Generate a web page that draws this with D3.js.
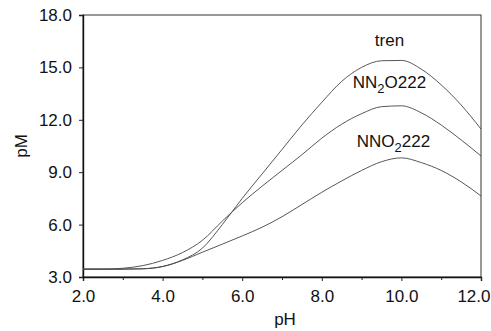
<!DOCTYPE html>
<html>
<head>
<meta charset="utf-8">
<script src="https://cdn.jsdelivr.net/npm/d3@7"></script>
<style>
  body { margin: 0; background: #fff; }
  text { font-family: Arial, "Liberation Sans", sans-serif; fill: #111; }
</style>
</head>
<body>
<div id="chart"></div>
<script>
// pH grid and pM values
const pH = [2.0, 2.5, 3.0, 3.5, 4.0, 4.5, 5.0, 5.5, 6.0, 6.5, 7.0, 7.5, 8.0, 8.5, 9.0, 9.5, 10.0, 10.5, 11.0, 11.5, 12.0];
const tren = [3.45, 3.45, 3.45, 3.47, 3.6, 3.98, 4.65, 6.0, 7.5, 8.9, 10.3, 11.7, 13.0, 14.2, 15.0, 15.38, 15.4, 14.9, 14.0, 12.85, 11.47];
const nn2o222 = [3.45, 3.45, 3.5, 3.65, 3.95, 4.4, 5.1, 6.2, 7.25, 8.2, 9.1, 10.0, 10.95, 11.75, 12.35, 12.75, 12.8, 12.4, 11.7, 10.85, 9.93];
const nno2222 = [3.45, 3.45, 3.45, 3.47, 3.6, 3.95, 4.42, 4.88, 5.35, 5.85, 6.45, 7.15, 7.85, 8.5, 9.1, 9.6, 9.82, 9.55, 9.1, 8.45, 7.64];

const xTicks = [2, 4, 6, 8, 10, 12];
const xMinor = [3, 5, 7, 9, 11];
const yTicks = [3, 6, 9, 12, 15, 18];

const labels = [
  { name: "tren", x: 9.7, y: 16.2 },
  { name: "NN|2|O222", x: 9.7, y: 13.8 },
  { name: "NNO|2|222", x: 9.8, y: 10.45 },
];

const W = 491, H = 331;
const margin = { top: 15, right: 10, bottom: 54, left: 83 };
const width = W - margin.left - margin.right;
const height = H - margin.top - margin.bottom;

const svg = d3.select("#chart").append("svg")
  .attr("width", W).attr("height", H);
const g = svg.append("g")
  .attr("transform", `translate(${margin.left},${margin.top})`);

const x = d3.scaleLinear().domain([2, 12]).range([0, width]);
const y = d3.scaleLinear().domain([3, 18]).range([height, 0]);

// frame
g.append("rect")
  .attr("width", width).attr("height", height)
  .attr("fill", "none").attr("stroke", "#333").attr("stroke-width", 1);

// x axis
const xAxis = g.append("g")
  .attr("transform", `translate(0,${height})`)
  .call(d3.axisBottom(x).tickValues(xTicks).tickFormat(d3.format(".1f")).tickSize(4).tickPadding(9));
g.append("g")
  .attr("transform", `translate(0,${height})`)
  .call(d3.axisBottom(x).tickValues(xMinor).tickFormat("").tickSize(3))
  .select(".domain").remove();

// last label would run off the page, so pull it in like the original
xAxis.selectAll(".tick text")
  .filter((d) => d === 12)
  .attr("text-anchor", "end")
  .attr("dx", 9);

// y axis
const yAxis = g.append("g")
  .call(d3.axisLeft(y).tickValues(yTicks).tickFormat(d3.format(".1f")).tickSize(4).tickPadding(7));

[xAxis, yAxis].forEach((a) => {
  a.select(".domain").attr("stroke", "#111").attr("stroke-width", 1.4);
  a.selectAll("text").style("font-size", "17px").attr("fill", "#111");
});
g.selectAll(".tick line").attr("stroke", "#222");

// axis titles
svg.append("text")
  .attr("x", margin.left + width / 2 + 3).attr("y", 325)
  .attr("text-anchor", "middle").style("font-size", "17px")
  .text("pH");
svg.append("text")
  .attr("transform", `translate(27,${margin.top + height / 2}) rotate(-90)`)
  .attr("text-anchor", "middle").style("font-size", "17px")
  .text("pM");

// curves
const line = d3.line()
  .x((d, i) => x(pH[i]))
  .y((d) => y(d))
  .curve(d3.curveMonotoneX);

g.selectAll(".curve")
  .data([tren, nn2o222, nno2222])
  .enter().append("path")
  .attr("class", "curve")
  .attr("d", line)
  .attr("fill", "none")
  .attr("stroke", "#444")
  .attr("stroke-width", 0.9);

// curve labels with subscripts
labels.forEach((l) => {
  const t = g.append("text")
    .attr("x", x(l.x)).attr("y", y(l.y))
    .attr("text-anchor", "middle")
    .style("font-size", "17px");
  l.name.split("|").forEach((part, i) => {
    const span = t.append("tspan").text(part);
    if (i === 1) span.attr("dy", 5).style("font-size", "13px");
    if (i === 2) span.attr("dy", -5);
  });
});
</script>
</body>
</html>
